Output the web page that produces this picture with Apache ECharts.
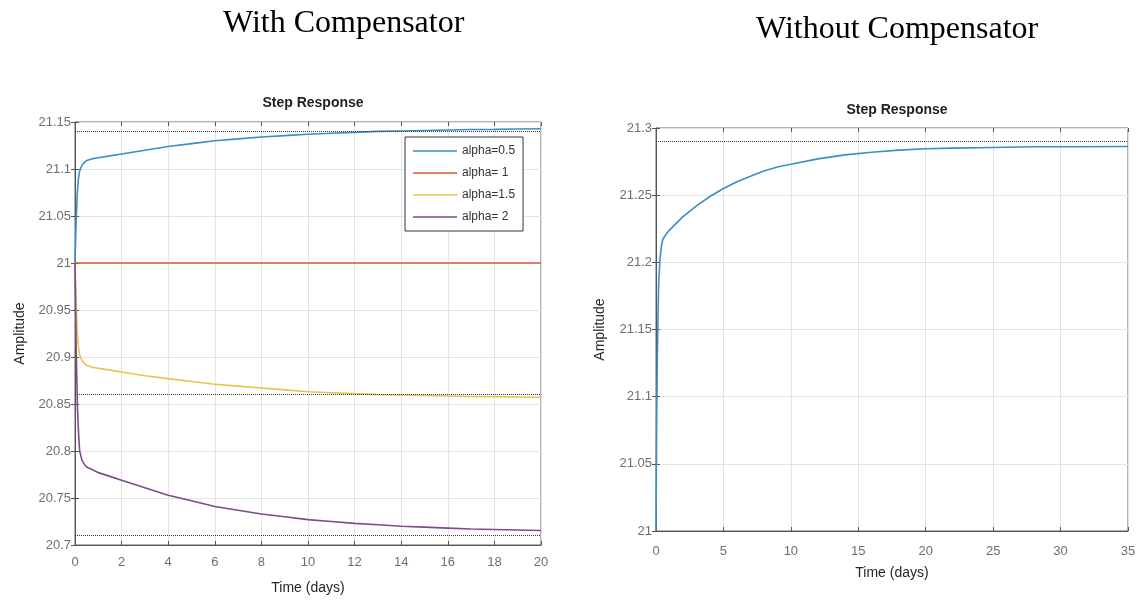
<!DOCTYPE html>
<html>
<head>
<meta charset="utf-8">
<script src="https://cdn.jsdelivr.net/npm/echarts@6/dist/echarts.min.js"></script>
<style>
html,body{margin:0;padding:0;background:#fff;}
#c{width:1145px;height:600px;}
</style>
</head>
<body>
<div id="c"></div>
<script>
// ---- Data ----
var tLeft = [0, 0.05, 0.1, 0.15, 0.2, 0.3, 0.4, 0.5, 0.75, 1, 1.5, 2, 3, 4, 5, 6, 7, 8, 9, 10, 11, 12, 13, 14, 15, 16, 17, 18, 19, 20];
var alpha05 = [21, 21.045, 21.075, 21.09, 21.098, 21.104, 21.107, 21.109, 21.111, 21.112, 21.114, 21.116, 21.12, 21.124, 21.127, 21.13, 21.132, 21.134, 21.1355, 21.137, 21.138, 21.139, 21.14, 21.1405, 21.141, 21.1415, 21.142, 21.1422, 21.1425, 21.1428];
var alpha15 = [21, 20.955, 20.925, 20.91, 20.902, 20.896, 20.893, 20.891, 20.889, 20.888, 20.886, 20.884, 20.88, 20.877, 20.874, 20.871, 20.869, 20.867, 20.865, 20.863, 20.862, 20.861, 20.86, 20.8595, 20.859, 20.8585, 20.858, 20.8578, 20.8575, 20.8572];
var alpha2 = [21, 20.91, 20.85, 20.82, 20.8, 20.79, 20.786, 20.783, 20.78, 20.777, 20.773, 20.769, 20.761, 20.753, 20.747, 20.741, 20.737, 20.733, 20.73, 20.727, 20.725, 20.723, 20.7215, 20.72, 20.719, 20.718, 20.717, 20.7165, 20.716, 20.7155];
var tAlpha1 = [0, 20];
var alpha1 = [21, 21];
var steadyLeft = [21.1429, 20.8571, 20.7143];

var tRight = [0, 0.05, 0.1, 0.15, 0.2, 0.3, 0.4, 0.5, 0.75, 1, 1.5, 2, 3, 4, 5, 6, 7, 8, 9, 10, 12, 14, 16, 18, 20, 22, 25, 28, 31, 35];
var noComp = [21, 21.08, 21.13, 21.16, 21.185, 21.203, 21.212, 21.217, 21.221, 21.224, 21.229, 21.234, 21.242, 21.249, 21.255, 21.26, 21.264, 21.268, 21.271, 21.273, 21.277, 21.28, 21.282, 21.2835, 21.2845, 21.285, 21.2855, 21.286, 21.286, 21.2862];
var steadyRight = [21.2857];

var seriesNames = ['alpha=0.5', 'alpha= 1', 'alpha=1.5', 'alpha= 2'];
var headings = ['With Compensator', 'Without Compensator'];
var plotTitle = 'Step Response';
var xName = 'Time (days)';
var yName = 'Amplitude';

// ---- Chart ----
function zip(t, v) { return t.map(function (x, i) { return [x, v[i]]; }); }
function fmt(v) { return String(parseFloat(Number(v).toFixed(2))); }

var labelStyle = { color: '#6e6e6e', fontSize: 13, fontFamily: 'Liberation Sans' };
var nameStyle = { color: '#262626', fontSize: 14, fontFamily: 'Liberation Sans' };
var gridLine = { show: true, lineStyle: { color: '#e4e4e4', width: 1 } };
var tickIn = { show: true, inside: true, length: 4, lineStyle: { color: '#555' } };

function mkX(grid, min, max, interval, main, margin, gap) {
  return {
    type: 'value', gridIndex: grid, min: min, max: max, interval: interval,
    position: main ? 'bottom' : 'top',
    name: main ? xName : '', nameLocation: 'middle', nameGap: gap, nameTextStyle: nameStyle,
    axisLine: { show: main, lineStyle: { color: '#555' } },
    axisTick: tickIn,
    axisLabel: main ? Object.assign({ margin: margin, formatter: fmt }, labelStyle) : { show: false },
    splitLine: main ? gridLine : { show: false }
  };
}
function mkY(grid, min, max, interval, main, gap) {
  return {
    type: 'value', gridIndex: grid, min: min, max: max, interval: interval,
    position: main ? 'left' : 'right',
    name: main ? yName : '', nameLocation: 'middle', nameGap: gap, nameTextStyle: nameStyle,
    axisLine: { show: main, lineStyle: { color: '#555' } },
    axisTick: tickIn,
    axisLabel: main ? Object.assign({ margin: 4, formatter: fmt }, labelStyle) : { show: false },
    splitLine: main ? gridLine : { show: false }
  };
}
function dotted(v) {
  return {
    silent: true, symbol: 'none', animation: false,
    label: { show: false },
    lineStyle: { type: 'dotted', color: '#3a3a3a', width: 1 },
    data: [{ yAxis: v }]
  };
}

var colors = ['#3b8fc3', '#d45a2c', '#ebc24e', '#7d4a8c'];

var option = {
  animation: false,
  backgroundColor: '#fff',
  graphic: [
    { type: 'text', left: 344 - 121, top: 8, style: { text: headings[0], font: '32px "Liberation Serif"', fill: '#000' } },
    { type: 'text', left: 896 - 140, top: 14, style: { text: headings[1], font: '32px "Liberation Serif"', fill: '#000' } }
  ],
  title: [
    { text: plotTitle, left: 308, top: 91, textAlign: 'center', textStyle: { fontSize: 14, fontWeight: 'bold', color: '#222', fontFamily: 'Liberation Sans' } },
    { text: plotTitle, left: 892, top: 98, textAlign: 'center', textStyle: { fontSize: 14, fontWeight: 'bold', color: '#222', fontFamily: 'Liberation Sans' } }
  ],
  legend: {
    data: seriesNames,
    orient: 'vertical', left: 405, top: 137,
    icon: 'rect',
    itemWidth: 44, itemHeight: 1.6, itemGap: 8,
    padding: [7, 8, 7, 8],
    borderColor: '#333', borderWidth: 1, backgroundColor: '#fff',
    textStyle: { fontSize: 12, color: '#333', fontFamily: 'Liberation Sans', lineHeight: 14 }
  },
  grid: [
    { left: 75, top: 122, width: 466, height: 423, show: true, borderColor: '#666', borderWidth: 1 },
    { left: 656, top: 128, width: 472, height: 403, show: true, borderColor: '#666', borderWidth: 1 }
  ],
  xAxis: [
    mkX(0, 0, 20, 2, true, 11, 36),
    mkX(1, 0, 35, 5, true, 14, 35),
    mkX(0, 0, 20, 2, false),
    mkX(1, 0, 35, 5, false)
  ],
  yAxis: [
    mkY(0, 20.7, 21.15, 0.05, true, 48),
    mkY(1, 21, 21.3, 0.05, true, 49),
    mkY(0, 20.7, 21.15, 0.05, false),
    mkY(1, 21, 21.3, 0.05, false)
  ],
  series: [
    { name: seriesNames[0], type: 'line', xAxisIndex: 0, yAxisIndex: 0, data: zip(tLeft, alpha05), symbol: 'none', lineStyle: { width: 1.6, color: colors[0] }, itemStyle: { color: colors[0] }, markLine: dotted(steadyLeft[0]) },
    { name: seriesNames[1], type: 'line', xAxisIndex: 0, yAxisIndex: 0, data: zip(tAlpha1, alpha1), symbol: 'none', lineStyle: { width: 1.6, color: colors[1] }, itemStyle: { color: colors[1] } },
    { name: seriesNames[2], type: 'line', xAxisIndex: 0, yAxisIndex: 0, data: zip(tLeft, alpha15), symbol: 'none', lineStyle: { width: 1.6, color: colors[2] }, itemStyle: { color: colors[2] }, markLine: dotted(steadyLeft[1]) },
    { name: seriesNames[3], type: 'line', xAxisIndex: 0, yAxisIndex: 0, data: zip(tLeft, alpha2), symbol: 'none', lineStyle: { width: 1.6, color: colors[3] }, itemStyle: { color: colors[3] }, markLine: dotted(steadyLeft[2]) },
    { name: 'no compensator', type: 'line', xAxisIndex: 1, yAxisIndex: 1, data: zip(tRight, noComp), symbol: 'none', lineStyle: { width: 1.6, color: colors[0] }, itemStyle: { color: colors[0] }, markLine: dotted(steadyRight[0]) }
  ]
};

var chart = echarts.init(document.getElementById('c'), null, { renderer: 'canvas' });
chart.setOption(option);
</script>
</body>
</html>
